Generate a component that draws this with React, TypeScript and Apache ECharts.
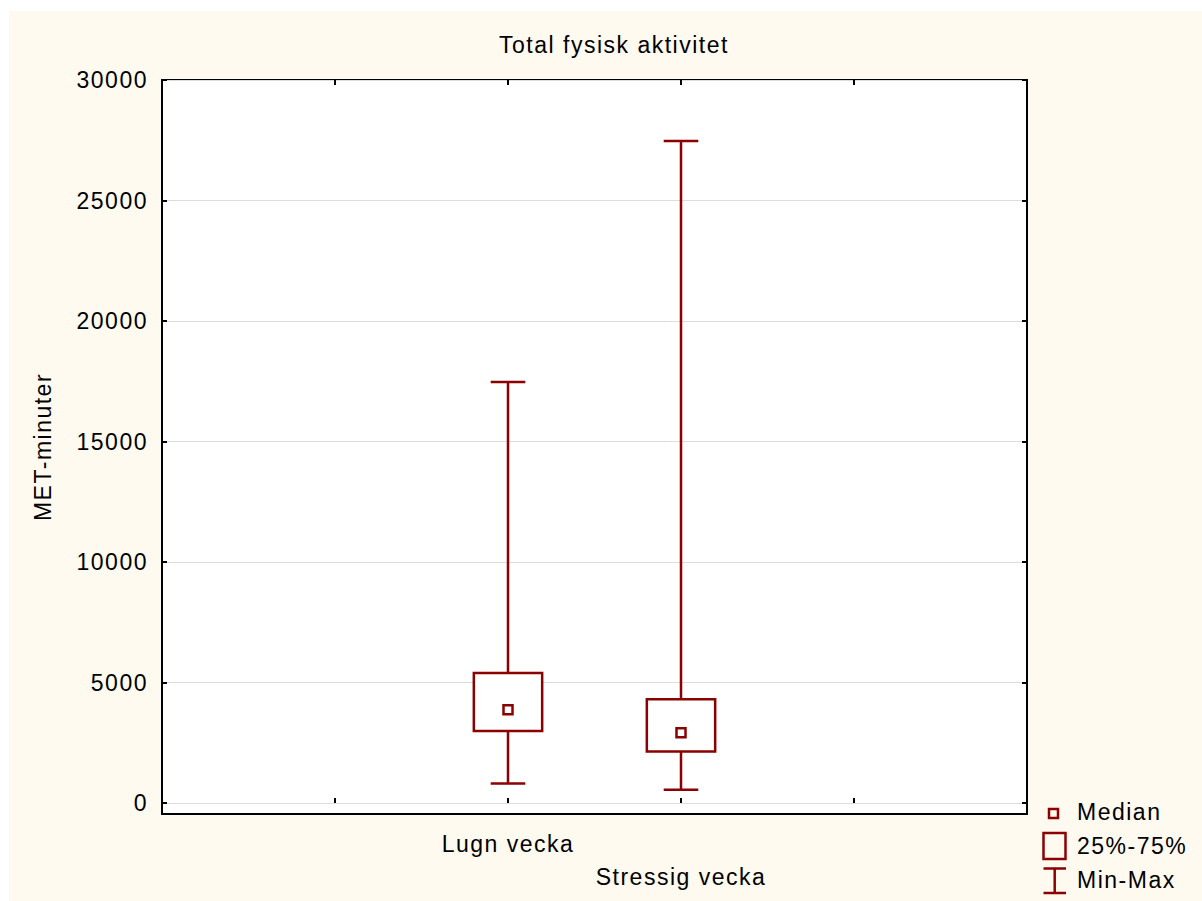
import React, { useEffect, useRef } from 'react';
import * as echarts from 'echarts';

const chartTitle = 'Total fysisk aktivitet';
const yAxisName = 'MET-minuter';
const categories = ['Lugn vecka', 'Stressig vecka'];
const xPositions = [2, 3];
const minValues = [810, 550];
const q1Values = [2990, 2140];
const medianValues = [3870, 2915];
const q3Values = [5390, 4310];
const maxValues = [17470, 27470];
const yTicks = [0, 5000, 10000, 15000, 20000, 25000, 30000];
const legendLabels = ['Median', '25%-75%', 'Min-Max'];

const RED = '#8b0000';
const FONT = 'Liberation Sans, Arial, sans-serif';

export default function App() {
  const ref = useRef<HTMLDivElement>(null);

  useEffect(() => {
    if (!ref.current) return;
    const chart = echarts.init(ref.current, undefined, { renderer: 'svg' });

    const data = categories.map((_, i) => [
      xPositions[i],
      minValues[i],
      q1Values[i],
      medianValues[i],
      q3Values[i],
      maxValues[i],
    ]);

    const tickStyle = { show: true, inside: true, length: 5, lineStyle: { color: '#000', width: 2 } };

    const option: any = {
      animation: false,
      backgroundColor: 'transparent',
      textStyle: { fontFamily: FONT },
      grid: [
        {
          left: 162,
          top: 80,
          width: 865,
          height: 734,
          show: true,
          backgroundColor: '#ffffff',
          borderColor: '#000',
          borderWidth: 2,
        },
        { left: 162, top: 80, width: 865, height: 723 },
      ],
      xAxis: [
        {
          gridIndex: 0,
          type: 'value',
          min: 0,
          max: 5,
          interval: 1,
          position: 'bottom',
          axisLine: { show: false },
          axisTick: tickStyle,
          splitLine: { show: false },
          axisLabel: {
            margin: 18,
            fontSize: 23,
            color: '#000',
            fontFamily: FONT,
            formatter: (v: number) => {
              const idx = xPositions.indexOf(v);
              if (idx < 0) return '';
              return idx % 2 === 1 ? '{s|' + categories[idx] + '}' : categories[idx];
            },
            rich: {
              s: { fontSize: 23, color: '#000', fontFamily: FONT, padding: [33, 0, 0, 0] },
            },
          },
        },
        {
          gridIndex: 0,
          type: 'value',
          min: 0,
          max: 5,
          interval: 1,
          position: 'top',
          axisLine: { show: false },
          axisTick: tickStyle,
          splitLine: { show: false },
          axisLabel: { show: false },
        },
        { gridIndex: 1, type: 'value', min: 0, max: 5, show: false },
      ],
      yAxis: [
        { gridIndex: 0, type: 'value', min: -456, max: 30000, show: false },
        {
          gridIndex: 1,
          type: 'value',
          min: yTicks[0],
          max: yTicks[yTicks.length - 1],
          interval: yTicks[1] - yTicks[0],
          position: 'left',
          axisLine: { show: false },
          axisTick: tickStyle,
          axisLabel: {
            margin: 14,
            fontSize: 23,
            color: '#000',
            fontFamily: FONT,
            formatter: (v: number) => String(v),
          },
          splitLine: { show: true, lineStyle: { color: '#dcdcdc', width: 1 } },
        },
        {
          gridIndex: 1,
          type: 'value',
          min: yTicks[0],
          max: yTicks[yTicks.length - 1],
          interval: yTicks[1] - yTicks[0],
          position: 'right',
          axisLine: { show: false },
          axisTick: tickStyle,
          axisLabel: { show: false },
          splitLine: { show: false },
        },
      ],
      series: [
        {
          type: 'custom',
          xAxisIndex: 0,
          yAxisIndex: 0,
          data,
          encode: { x: 0, y: [1, 2, 3, 4, 5] },
          renderItem: (params: any, api: any) => {
            const x = api.value(0);
            const pMin = api.coord([x, api.value(1)]);
            const pQ1 = api.coord([x, api.value(2)]);
            const pMed = api.coord([x, api.value(3)]);
            const pQ3 = api.coord([x, api.value(4)]);
            const pMax = api.coord([x, api.value(5)]);
            const unit = api.size([1, 0])[0];
            const cx = pMin[0];
            const boxW = unit * 0.395;
            const capW = unit * 0.2;
            const med = 9;
            const st = { stroke: RED, lineWidth: 2.5, fill: null };
            return {
              type: 'group',
              children: [
                { type: 'line', shape: { x1: cx, y1: pQ3[1], x2: cx, y2: pMax[1] }, style: st },
                { type: 'line', shape: { x1: cx - capW / 2, y1: pMax[1], x2: cx + capW / 2, y2: pMax[1] }, style: st },
                { type: 'line', shape: { x1: cx, y1: pQ1[1], x2: cx, y2: pMin[1] }, style: st },
                { type: 'line', shape: { x1: cx - capW / 2, y1: pMin[1], x2: cx + capW / 2, y2: pMin[1] }, style: st },
                {
                  type: 'rect',
                  shape: { x: cx - boxW / 2, y: pQ3[1], width: boxW, height: pQ1[1] - pQ3[1] },
                  style: { stroke: RED, lineWidth: 2.5, fill: '#ffffff' },
                },
                {
                  type: 'rect',
                  shape: { x: cx - med / 2, y: pMed[1] - med / 2, width: med, height: med },
                  style: { stroke: RED, lineWidth: 2.5, fill: '#ffffff' },
                },
              ],
            };
          },
        },
      ],
      graphic: [
        {
          type: 'text',
          x: 614,
          y: 45,
          style: {
            text: chartTitle,
            fontSize: 23,
            fontFamily: FONT,
            fill: '#000',
            textAlign: 'center',
            textVerticalAlign: 'middle',
          },
        },
        {
          type: 'text',
          x: 43,
          y: 447,
          rotation: Math.PI / 2,
          style: {
            text: yAxisName,
            fontSize: 23,
            fontFamily: FONT,
            fill: '#000',
            textAlign: 'center',
            textVerticalAlign: 'middle',
          },
        },
        {
          type: 'rect',
          shape: { x: 1049, y: 809, width: 9, height: 9 },
          style: { stroke: RED, lineWidth: 2.5, fill: 'transparent' },
        },
        {
          type: 'rect',
          shape: { x: 1043.5, y: 833, width: 22, height: 26 },
          style: { stroke: RED, lineWidth: 2.5, fill: 'transparent' },
        },
        { type: 'line', shape: { x1: 1043.5, y1: 868.5, x2: 1066, y2: 868.5 }, style: { stroke: RED, lineWidth: 2.5 } },
        { type: 'line', shape: { x1: 1043.5, y1: 893, x2: 1066, y2: 893 }, style: { stroke: RED, lineWidth: 2.5 } },
        { type: 'line', shape: { x1: 1054.7, y1: 868.5, x2: 1054.7, y2: 893 }, style: { stroke: RED, lineWidth: 2.5 } },
        ...legendLabels.map((t, i) => ({
          type: 'text',
          x: 1077,
          y: 812 + i * 34,
          style: {
            text: t,
            fontSize: 23,
            fontFamily: FONT,
            fill: '#000',
            textAlign: 'left',
            textVerticalAlign: 'middle',
          },
        })),
      ],
    };

    chart.setOption(option);
    return () => chart.dispose();
  }, []);

  return (
    <div style={{ position: 'absolute', left: 0, top: 0, width: 1202, height: 901, background: '#ffffff' }}>
      <div style={{ position: 'absolute', left: 9, top: 11, right: 0, bottom: 0, background: '#fefaf0' }} />
      <div
        ref={ref}
        style={{ position: 'absolute', left: 0, top: 0, width: 1202, height: 901, letterSpacing: '1.5px' }}
      />
    </div>
  );
}
